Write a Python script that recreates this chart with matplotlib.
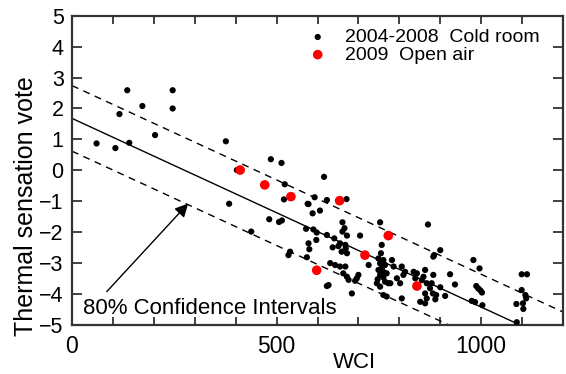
import matplotlib
matplotlib.use("Agg")
import matplotlib.pyplot as plt
import numpy as np
from matplotlib.ticker import MultipleLocator

plt.rcParams['font.family'] = ['Liberation Sans', 'DejaVu Sans']

# ---- data ----
cold_wci = [60, 106, 135, 116, 140, 172, 203, 246, 246, 376, 403, 486, 512, 616,
            520, 518, 384, 576, 482, 506, 513, 438, 572, 578, 580, 533, 529, 574,
            593, 578, 588, 606, 623, 671, 590, 598, 597, 623,
            661, 666, 661, 672, 704, 641, 753, 870,
            655, 668, 669, 659, 672, 651, 637,
            631, 643, 655, 668, 663, 672, 676, 700, 696, 692, 627, 684, 623, 725,
            757, 755, 749, 761, 753, 765, 757, 749, 761, 769, 753, 761, 747, 765, 745, 773, 753, 761, 769,
            782, 786, 806, 814, 810, 794, 802, 778, 806,
            835, 843, 839, 855, 863, 859, 867, 879, 875, 863, 867, 851, 863, 883,
            900, 885, 981, 996, 883, 924, 936, 900, 882, 890, 888, 912,
            988, 993, 998, 1002, 977, 985, 1003,
            1099, 1112, 1099, 1108, 1110, 1102, 1086, 1103, 1087]
cold_tsv = [0.87, 0.72, 2.59, 1.82, 0.89, 2.08, 1.14, 2.59, 2.0, 0.94, 0.01, 0.36, 0.24, -0.21,
            -0.45, -0.94, -1.08, -1.08, -1.58, -1.67, -1.62, -1.98, -1.89, -2.36, -2.55, -2.63, -2.74, -2.81,
            -0.87, -1.09, -1.39, -1.30, -0.96, -0.93, -1.91, -2.01, -2.25, -2.09,
            -1.68, -1.87, -1.98, -2.11, -2.11, -2.2, -1.68, -1.75,
            -2.36, -2.41, -2.52, -2.63, -2.68, -2.45, -2.49,
            -3.0, -3.06, -3.11, -3.11, -3.33, -3.44, -3.54, -3.38, -3.49, -3.57, -3.71, -3.98, -3.74, -3.06,
            -2.41, -2.68, -2.85, -2.9, -3.01, -3.06, -3.17, -3.22, -3.28, -3.33, -3.38, -3.46, -3.52, -3.6, -3.65, -3.65, -3.76, -4.03, -4.08,
            -2.9, -3.11, -3.11, -3.28, -3.38, -3.49, -3.65, -3.65, -4.14,
            -3.28, -3.33, -3.49, -3.55, -3.22, -3.44, -3.65, -3.65, -3.81, -3.98, -4.14, -4.25, -4.3, -2.79,
            -2.58, -2.74, -2.90, -3.17, -3.38, -3.36, -3.69, -3.78, -3.98, -4.03, -4.17, -4.06,
            -3.74, -3.82, -3.88, -3.95, -4.22, -4.26, -4.36,
            -3.36, -3.36, -3.87, -4.03, -4.14, -4.3, -4.32, -4.48, -4.91]

open_wci = [411, 471, 535, 654, 773, 716, 598, 843]
open_tsv = [0.01, -0.47, -0.85, -0.98, -2.11, -2.74, -3.23, -3.74]

fit_intercept = 1.68
fit_slope = -0.0061
ci_halfwidth = 1.06

x_range = [0, 1200]
y_range = [-5, 5]

series_labels = ["2004-2008  Cold room", "2009  Open air"]
annotation_text = "80% Confidence Intervals"

# ---- figure ----
W, H = 566, 374
fig = plt.figure(figsize=(W / 100, H / 100), dpi=100)
ax = fig.add_axes([72 / W, 1 - 325 / H, (563 - 72) / W, (325 - 15.7) / H])

xs = np.linspace(x_range[0], x_range[1], 200)
yfit = fit_intercept + fit_slope * xs
ax.plot(xs, yfit, color='black', lw=1.0, zorder=2)
ax.plot(xs, yfit + ci_halfwidth, color='black', lw=1.0, ls=(0, (5, 4)), zorder=2)
ax.plot(xs, yfit - ci_halfwidth, color='black', lw=1.0, ls=(0, (5, 4)), zorder=2)

h1 = ax.scatter(cold_wci, cold_tsv, s=20, color='black', edgecolors='none', zorder=3,
                label=series_labels[0])
h2 = ax.scatter(open_wci, open_tsv, s=48, color='#ff0000', edgecolors='none', zorder=4,
                label=series_labels[1])

ax.set_xlim(*x_range)
ax.set_ylim(*y_range)

ax.xaxis.set_major_locator(MultipleLocator(500))
ax.xaxis.set_minor_locator(MultipleLocator(100))
ax.yaxis.set_major_locator(MultipleLocator(1))

ax.tick_params(axis='both', which='both', direction='in', top=True, right=True,
               width=1.3, color='#333333')
ax.tick_params(axis='x', which='both', length=6, pad=7, labelsize=16.5)
ax.tick_params(axis='y', which='major', length=7, pad=6, labelsize=15.5)

for sp in ax.spines.values():
    sp.set_linewidth(1.6)
    sp.set_color('#333333')

ax.set_xlabel("WCI", fontsize=16)
ax.xaxis.set_label_coords((354 - 72) / (563 - 72), -(362 - 325) / (325 - 15.7), transform=ax.transAxes)
ax.xaxis.label.set_va('center')
ax.set_ylabel("Thermal sensation vote", fontsize=18)
ax.yaxis.set_label_coords(-(72 - 26) / (563 - 72), (325 - 206) / (325 - 15.7), transform=ax.transAxes)
ax.yaxis.label.set_va('center')

ax.annotate("", xy=(284, -1.07), xytext=(85, -3.92),
            arrowprops=dict(arrowstyle='-|>', color='black', lw=1.0,
                            mutation_scale=20, shrinkA=0, shrinkB=0))
ax.text(26, -4.645, annotation_text, fontsize=16, va='baseline', ha='left')

leg = ax.legend(handles=[h1, h2], loc='upper left',
                bbox_to_anchor=(308 / W, 1 - 28.5 / H), bbox_transform=fig.transFigure,
                frameon=False, fontsize=14, handlelength=1.0, handletextpad=0.9,
                labelspacing=0.0, borderpad=0, borderaxespad=0, scatterpoints=1)

fig.savefig("out.png", dpi=100)
